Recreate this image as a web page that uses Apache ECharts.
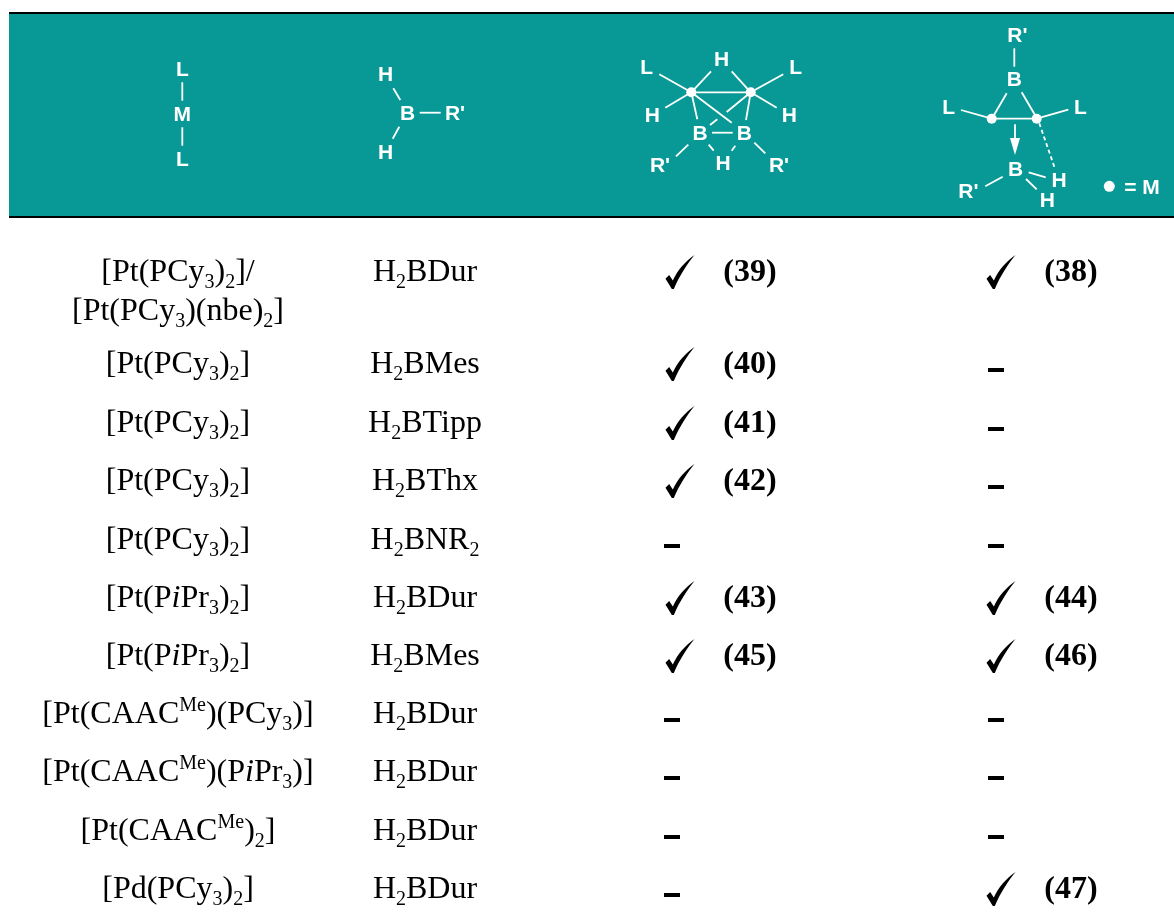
<!DOCTYPE html>
<html><head><meta charset="utf-8">
<style>html,body{margin:0;padding:0;background:#fff}#c{width:1174px;height:920px}</style>
<script src="https://cdn.jsdelivr.net/npm/echarts@6/dist/echarts.min.js"></script>
</head><body><div id="c"></div>
<script>
// ---- table content ----
const ligands = ['[Pt(PCy_3)_2]/\n[Pt(PCy_3)(nbe)_2]','[Pt(PCy_3)_2]','[Pt(PCy_3)_2]','[Pt(PCy_3)_2]','[Pt(PCy_3)_2]','[Pt(P*i*Pr_3)_2]','[Pt(P*i*Pr_3)_2]','[Pt(CAAC^Me)(PCy_3)]','[Pt(CAAC^Me)(P*i*Pr_3)]','[Pt(CAAC^Me)_2]','[Pd(PCy_3)_2]'];
const boranes = ['H_2BDur','H_2BMes','H_2BTipp','H_2BThx','H_2BNR_2','H_2BDur','H_2BMes','H_2BDur','H_2BDur','H_2BDur','H_2BDur'];
const productA = [39,40,41,42,null,43,45,null,null,null,null];
const productB = [38,null,null,null,null,44,46,null,null,null,47];

// ---- header structure drawings ----
const atomLabels = [
 ['L',182.3,70],['M',182.3,115],['L',182.3,160],
 ['H',385.7,75.7],['B',407.7,114.3],["R'",455,114.3],['H',385.7,153.3],
 ['L',646.7,68.3],['H',721.7,60.3],['L',795.7,68.3],['H',652.3,116.7],['H',789.3,116.7],['B',700,134.3],['B',744.3,134.3],["R'",660,166],['H',723,164.3],["R'",779,166],
 ["R'",1017.3,36],['B',1014.3,80.7],['L',948.7,108.3],['L',1080.3,108.3],['B',1015.7,170],['H',1059,181],['H',1047.3,201.3],["R'",968.3,192.7],
 ['= M',1142,188]
];
const metalDots = [[691.3,92.3],[750.7,92.3],[991.7,118.7],[1036.7,118.7]];
const legendDot = [[1109.3,186.3]];
const bonds = [
 [182.3,82.3,182.3,100.7],[182.3,127.3,182.3,145.7],
 [393.3,88.3,400.3,100],[399.3,126.7,392.7,138.7],[419.7,112.7,440.7,112.7],
 [659.3,74.3,691.3,92.3],[711,71.3,691.3,92.3],[691.3,92.3,750.7,92.3],[731.7,71.3,750.7,92.3],[783.3,74.3,750.7,92.3],[665.3,107.7,691.3,92.3],[776.7,107.7,750.7,92.3],
 [691.3,92.3,697.3,119.3],[691.3,92.3,731.7,122.7],[750.7,92.3,746,120],[750.7,92.3,726.7,112],[717.3,119.3,710,125],[712,132.7,732.7,132.7],[708.7,144.7,713.7,150.7],[735.3,145.7,731.7,150.7],[688.3,144.7,676,156.3],[754.3,142.7,765.3,153.3],
 [1014.3,48.3,1014.3,66.7],[1006.7,93.3,993,116.7],[1021.7,92.3,1036,116.7],[961,110,991.7,118.7],[1068.3,109.7,1036.7,118.7],[991.7,118.7,1036.7,118.7],
 [1015,124.3,1015,140],[1028.7,172.3,1045.7,177.3],[1026,179,1036.7,189.3],[1002.7,176.7,985.3,186.3]
];
const dashedBonds = [[1039.3,123.3,1054.3,166.7]];
const arrowHeads = [[[1015,155],[1010,138],[1020,138]]];

// ---- layout (page pixels, kept apart from the content) ----
const rowY = [271,363,422,480,539,597,655,713,771,830,888];
const textDrop = 2;
const colLigand = 178, colBorane = 425, colCheckA = 680, colRefA = 750, colDashA = 672, colCheckB = 1001, colRefB = 1071, colDashB = 996;
const checkPath = 'path://M76,100 L87,89 L98,105 C112,75 135,50 163,31 C143,55 118,90 101,130 L95,130 Z';

function toRich(s){
  return s.split('\n').map(line=>{
    let out='', re=/_(\d)|\^(Me)|\*(\w)\*|([^_^*]+)/g, m;
    while((m=re.exec(line))){
      if(m[1]) out+=`{s|${m[1]}}`;
      else if(m[2]) out+=`{u|${m[2]}}`;
      else if(m[3]) out+=`{i|${m[3]}}`;
      else out+=`{n|${m[4]}}`;
    }
    return out;
  }).join('\n');
}
const serif='"Liberation Serif","Times New Roman",serif', sans='"Liberation Sans",Arial,sans-serif';
const rich={
  n:{fontFamily:serif,fontSize:32,lineHeight:39,color:'#000'},
  i:{fontFamily:serif,fontSize:32,lineHeight:39,color:'#000',fontStyle:'italic'},
  s:{fontFamily:serif,fontSize:20,lineHeight:23,verticalAlign:'bottom',color:'#000'},
  u:{fontFamily:serif,fontSize:20,lineHeight:4,verticalAlign:'top',color:'#000'}
};
const textSeries=(name,points,extra)=>({type:'scatter',name,symbolSize:0,silent:true,z:5,data:points,itemStyle:{opacity:1},
  label:Object.assign({show:true,position:'inside',align:'center',verticalAlign:'middle',formatter:p=>p.data[2]},extra)});

const segs=(list,name,dash)=>({type:'custom',name,silent:true,z:3,coordinateSystem:'cartesian2d',data:list,clip:false,
  renderItem:(ctx,api)=>{
    const a=api.coord([api.value(0),api.value(1)]),b=api.coord([api.value(2),api.value(3)]);
    return {type:'line',shape:{x1:a[0],y1:a[1],x2:b[0],y2:b[1]},style:{stroke:'#fff',lineWidth:1.8,lineDash:dash||null}};
  }});
const rects=(list,name,color,z)=>({type:'custom',name,silent:true,z,data:list,clip:false,
  renderItem:(ctx,api)=>{
    const a=api.coord([api.value(0),api.value(1)]),b=api.coord([api.value(2),api.value(3)]);
    return {type:'rect',shape:{x:a[0],y:a[1],width:b[0]-a[0],height:b[1]-a[1]},style:{fill:color}};
  }});

const checks=[],dashes=[],refs=[];
[[productA,colCheckA,colRefA,colDashA],[productB,colCheckB,colRefB,colDashB]].forEach(([vals,cc,cr,cd])=>{
  vals.forEach((v,i)=>{
    if(v===null) dashes.push([cd-8,rowY[i]+5,cd+8,rowY[i]+9]);
    else { checks.push([cc,rowY[i]+1]); refs.push([cr,rowY[i]+textDrop,'('+v+')']); }
  });
});

const chart=echarts.init(document.getElementById('c'),null,{renderer:'canvas'});
chart.setOption({
  animation:false,backgroundColor:'#fff',
  grid:{left:0,right:0,top:0,bottom:0},
  xAxis:{type:'value',min:0,max:1174,show:false},
  yAxis:{type:'value',min:0,max:920,inverse:true,show:false},
  tooltip:{show:false},
  series:[
    rects([[9,13,1174,217]],'header band','#089996',1),
    rects([[9,12,1174,14],[9,216,1174,218]],'header rules','#000',2),
    segs(bonds,'bonds'),
    segs(dashedBonds,'dashed bonds',[4,3]),
    {type:'custom',name:'arrow heads',silent:true,z:3,data:arrowHeads.map((h,i)=>[i]),
      renderItem:(ctx,api)=>({type:'polygon',shape:{points:arrowHeads[api.value(0)].map(p=>api.coord(p))},style:{fill:'#fff'}})},
    {type:'scatter',name:'metal atoms',symbol:'circle',symbolSize:10,silent:true,z:4,itemStyle:{color:'#fff',opacity:1},data:metalDots},
    {type:'scatter',name:'legend atom',symbol:'circle',symbolSize:11,silent:true,z:4,itemStyle:{color:'#fff',opacity:1},data:legendDot},
    textSeries('atoms',atomLabels.map(a=>[a[1],a[2],a[0]]),{color:'#fff',fontFamily:sans,fontWeight:'bold',fontSize:21}),
    textSeries('ligands',ligands.map((t,i)=>[colLigand,rowY[i]+textDrop+(i===0?19.5:0),toRich(t)]),{rich}),
    textSeries('boranes',boranes.map((t,i)=>[colBorane,rowY[i]+textDrop,toRich(t)]),{rich}),
    textSeries('refs',refs,{color:'#000',fontFamily:serif,fontWeight:'bold',fontSize:32}),
    {type:'scatter',name:'checks',symbol:checkPath,symbolSize:[29,34],silent:true,z:4,itemStyle:{color:'#000',opacity:1},data:checks},
    rects(dashes,'dashes','#000',4)
  ]
});
</script></body></html>
